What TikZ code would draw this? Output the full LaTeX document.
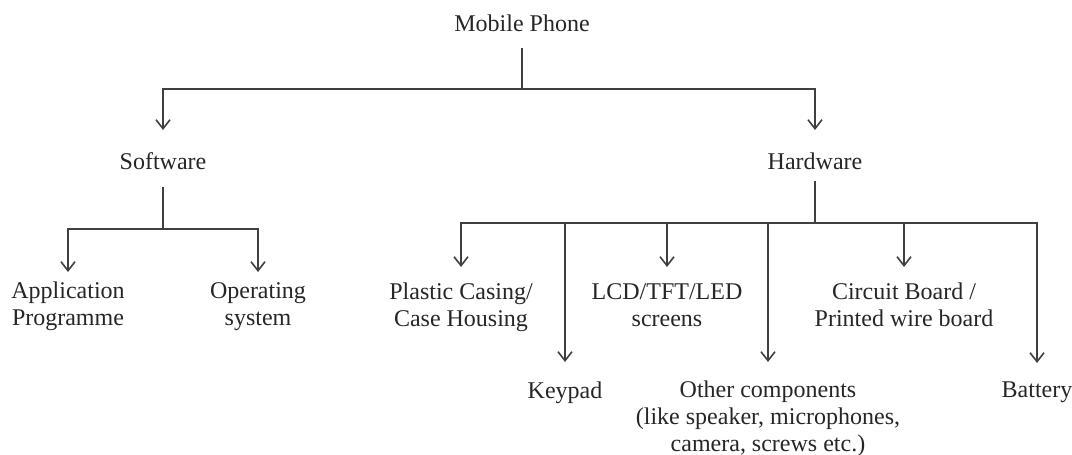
\documentclass[tikz,border=0pt]{standalone}
\usepackage{fontspec}
\setmainfont{Liberation Serif}
\usetikzlibrary{arrows.meta,calc}
\begin{document}
\begin{tikzpicture}[x=1pt,y=-1pt,
  lbl/.style={inner sep=0pt,align=center,anchor=base,text=black!85,
    font=\fontsize{24}{27}\selectfont},
  conn/.style={draw=black!75,line width=1.8pt},
  arr/.style={conn,-{Straight Barb[length=9pt,width=14pt,line width=1.6pt]}}]
\useasboundingbox (0,0) rectangle (1072,455);
% nodes (base anchor = baseline of last line)
\node[lbl] (mp)  at (522,31)  {Mobile Phone};
\node[lbl] (sw)  at (163,169) {Software};
\node[lbl] (hw)  at (815,169) {Hardware};
\node[lbl] (ap)  at (68,325)  {Application\\Programme};
\node[lbl] (os)  at (258,325) {Operating\\system};
\node[lbl] (pc)  at (461,326) {Plastic Casing/\\Case Housing};
\node[lbl] (lcd) at (667,326) {LCD/TFT/LED\\screens};
\node[lbl] (cb)  at (904,326) {Circuit Board /\\Printed wire board};
\node[lbl] (kp)  at (565,398) {Keypad};
\node[lbl] (oc)  at (768,451) {Other components\\(like speaker, microphones,\\camera, screws etc.)};
\node[lbl] (bat) at (1037,397) {Battery};
% junctions
\coordinate (j0) at (522,89);
\coordinate (j1) at (163,229);
\coordinate (j2) at (815,223);
% connectors
\draw[conn] ($(mp.base)+(0,17)$) -- (j0);
\draw[arr] (j0) -| ($(sw.base)+(0,-39)$);
\draw[arr] (j0) -| ($(hw.base)+(0,-39)$);
\draw[conn] ($(sw.base)+(0,18)$) -- (j1);
\draw[arr] (j1) -| ($(ap.base)+(0,-53)$);
\draw[arr] (j1) -| ($(os.base)+(0,-53)$);
\draw[conn] ($(hw.base)+(0,12)$) -- (j2);
\draw[arr] (j2) -| ($(pc.base)+(0,-59)$);
\draw[arr] (j2) -| ($(kp.base)+(0,-36)$);
\draw[arr] (j2) -| ($(lcd.base)+(0,-59)$);
\draw[arr] (j2) -| ($(oc.base)+(0,-89)$);
\draw[arr] (j2) -| ($(cb.base)+(0,-59)$);
\draw[arr] (j2) -| ($(bat.base)+(0,-34)$);
\end{tikzpicture}
\end{document}
